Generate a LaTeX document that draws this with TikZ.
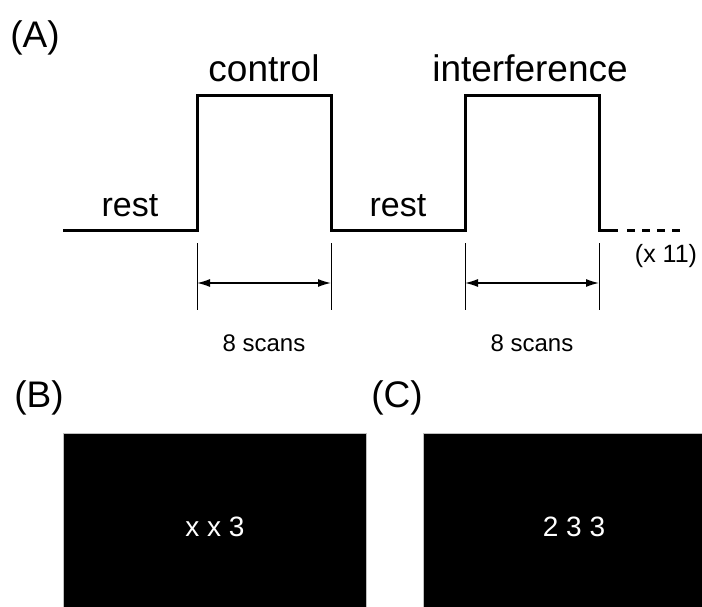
\documentclass[tikz,border=0pt]{standalone}
\usepackage{fontspec}
\setmainfont{Liberation Sans}
\usetikzlibrary{arrows.meta}
\begin{document}
\begin{tikzpicture}[x=1pt,y=-1pt,
  lbl/.style={inner sep=0pt, anchor=base},
  big/.style={lbl, font=\fontsize{37}{40}\selectfont},
  mid/.style={lbl, font=\fontsize{34}{38}\selectfont},
  small/.style={lbl, font=\fontsize{24}{28}\selectfont},
  screen/.style={fill=black, draw=gray!50, line width=0.6pt},
  screentext/.style={lbl, text=white, font=\fontsize{28}{32}\selectfont},
  wave/.style={line width=3pt, line join=miter},
  tick/.style={line width=1pt},
  span/.style={line width=1.4pt, {Latex[length=13pt,width=8pt]}-{Latex[length=13pt,width=8pt]}}]
\useasboundingbox (0,0) rectangle (702,607);

% panel A
\node[big] (labA) at (35,48) {(A)};
\coordinate (w0) at (63,230);
\coordinate (r1) at (197,230);
\coordinate (t1) at (197,96);
\coordinate (t2) at (331,96);
\coordinate (f1) at (331,230);
\coordinate (r2) at (465,230);
\coordinate (t3) at (465,96);
\coordinate (t4) at (599,96);
\coordinate (f2) at (599,230);
\coordinate (w1) at (618,230);
\coordinate (d0) at (627,230);
\coordinate (d1) at (680,230);
\draw[wave] (w0) -- (r1) -- (t1) -- (t2) -- (f1) -- (r2) -- (t3) -- (t4) -- (f2) -- (w1);
\draw[wave, dash pattern=on 8pt off 7pt] (d0) -- (d1);

\node[big] (ctl) at (264,82) {control};
\node[big] (intf) at (530,82) {interference};
\node[mid] (rest1) at (130,217) {rest};
\node[mid] (rest2) at (398,217) {rest};
\node[small, font=\fontsize{25}{28}\selectfont] (rep) at (666,262) {(x 11)};

% ticks and spans
\foreach \n/\x in {a/197,b/331,c/465,d/599}{
  \coordinate (k\n0) at (\x,243);
  \coordinate (k\n1) at (\x,310);
  \coordinate (m\n) at (\x,283);
  \draw[tick] (k\n0) -- (k\n1);
}
\draw[span] (ma) -- (mb);
\draw[span] (mc) -- (md);
\node[small] (sc1) at (264,351) {8 scans};
\node[small] (sc2) at (532,351) {8 scans};

% panels B and C
\node[big] (labB) at (39,407) {(B)};
\node[big] (labC) at (397,407) {(C)};
\draw[screen] (63,433) rectangle (366,610);
\draw[screen] (423,433) rectangle (705,610);
\node[screentext] (txtB) at (215,536) {x x 3};
\node[screentext] (txtC) at (574,536) {2 3 3};
\end{tikzpicture}
\end{document}
